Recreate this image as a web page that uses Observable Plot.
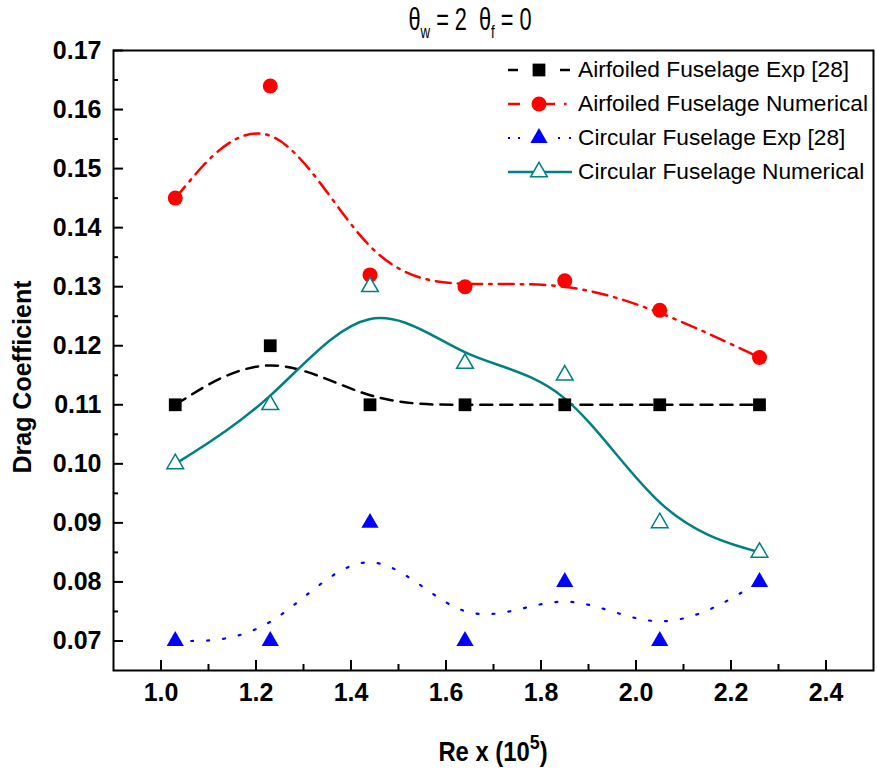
<!DOCTYPE html>
<html><head><meta charset="utf-8">
<script src="https://cdn.jsdelivr.net/npm/d3@7"></script>
<script src="https://cdn.jsdelivr.net/npm/@observablehq/plot@0.6"></script>
<style>
body{margin:0;background:#fff;}
#wrap{position:relative;width:877px;height:774px;font-family:"Liberation Sans",Arial,sans-serif;color:#000;overflow:hidden;}
.ov{position:absolute;white-space:nowrap;color:#000;line-height:1;}
</style></head><body><div id="wrap"></div>
<script>
// ---- data ----
const reValues = [1.03, 1.23, 1.44, 1.64, 1.85, 2.05, 2.26];
const airfoiledExp = [0.110, 0.120, 0.110, 0.110, 0.110, 0.110, 0.110];
const airfoiledNum = [0.145, 0.164, 0.132, 0.130, 0.131, 0.126, 0.118];
const circularExp = [0.070, 0.070, 0.090, 0.070, 0.080, 0.070, 0.080];
const circularNum = [0.100, 0.110, 0.130, 0.117, 0.115, 0.090, 0.085];
const seriesNames = ["Airfoiled Fuselage Exp [28]", "Airfoiled Fuselage Numerical", "Circular Fuselage Exp [28]", "Circular Fuselage Numerical"];
const xMajorTicks = [1.0, 1.2, 1.4, 1.6, 1.8, 2.0, 2.2, 2.4];
const xMinorTicks = [1.1, 1.3, 1.5, 1.7, 1.9, 2.1, 2.3];
const yMajorTicks = [0.07, 0.08, 0.09, 0.10, 0.11, 0.12, 0.13, 0.14, 0.15, 0.16, 0.17];
const yMinorTicks = [0.075, 0.085, 0.095, 0.105, 0.115, 0.125, 0.135, 0.145, 0.155, 0.165];
const xDomain = [0.9, 2.5];
const yDomain = [0.065, 0.17];

// ---- styles ----
const styles = [
  {values: airfoiledExp, stroke: "#000000", dash: "12,8", symbol: "square", fill: "#000000", mstroke: "none", r: 7.2, sw: 2.5,
   legendSegs: [[3, 13], [55, 65]]},
  {values: airfoiledNum, stroke: "#ff0000", dash: "15,7,2.5,7", symbol: "circle", fill: "#ff0000", mstroke: "none", r: 7.5, sw: 2.5,
   legendSegs: [[3, 15], [38, 50], [59, 61.5]]},
  {values: circularExp, stroke: "#0000ff", dash: "2,14", symbol: "triangle", fill: "#0000ff", mstroke: "none", r: 6.4, sw: 2.2,
   legendSegs: [[3, 5], [13, 15], [53, 55], [64, 66]]},
  {values: circularNum, stroke: "#008080", dash: null, symbol: "triangle", fill: "#ffffff", mstroke: "#008080", r: 6.2, sw: 2.5,
   legendSegs: [[3, 67]]}
];

const marks = [
  Plot.frame({stroke: "#000", strokeWidth: 2}),
  Plot.ruleX(xMajorTicks, {x: d => d, y1: () => yDomain[0], y2: () => yDomain[0], insetTop: -10, stroke: "#000", strokeWidth: 2}),
  Plot.ruleX(xMinorTicks, {x: d => d, y1: () => yDomain[0], y2: () => yDomain[0], insetTop: -6, stroke: "#000", strokeWidth: 2}),
  Plot.ruleY(yMajorTicks, {y: d => d, x1: () => xDomain[0], x2: () => xDomain[0], insetRight: -10, stroke: "#000", strokeWidth: 2}),
  Plot.ruleY(yMinorTicks, {y: d => d, x1: () => xDomain[0], x2: () => xDomain[0], insetRight: -5, stroke: "#000", strokeWidth: 2}),
  Plot.axisX({ticks: xMajorTicks, tickSize: 0, tickPadding: 13, tickFormat: d3.format(".1f"), label: null, fontSize: 25, fontWeight: "bold"}),
  Plot.axisY({ticks: yMajorTicks, tickSize: 0, tickPadding: 12, tickFormat: d3.format(".2f"), label: null, fontSize: 25, fontWeight: "bold"})
];
for (const s of styles) {
  const data = reValues.map((x, i) => ({x, y: s.values[i]}));
  marks.push(Plot.line(data, {x: "x", y: "y", curve: "basis", stroke: s.stroke, strokeWidth: s.sw, strokeDasharray: s.dash}));
}
for (const s of styles) {
  const data = reValues.map((x, i) => ({x, y: s.values[i]}));
  marks.push(Plot.dot(data, {x: "x", y: "y", symbol: s.symbol, r: s.r, fill: s.fill, stroke: s.mstroke, strokeWidth: 1.5}));
}

const chart = Plot.plot({
  width: 877, height: 774,
  marginLeft: 113, marginRight: 4, marginTop: 50, marginBottom: 104,
  style: {fontFamily: "'Liberation Sans', Arial, sans-serif", background: "#fff", color: "#000"},
  x: {domain: xDomain},
  y: {domain: yDomain},
  marks
});
const wrap = document.getElementById("wrap");
wrap.appendChild(chart);

// ---- title & axis labels ----
const title = document.createElement("div");
title.className = "ov";
title.style.cssText = "left:470px;top:4px;font-size:31px;transform:translateX(-50%) scaleX(0.7);";
title.innerHTML = "θ<sub style='font-size:19px;vertical-align:-8px'>w</sub> = 2&nbsp;&nbsp;θ<sub style='font-size:19px;vertical-align:-8px'>f</sub> = 0";
wrap.appendChild(title);

const xl = document.createElement("div");
xl.className = "ov";
xl.style.cssText = "left:493px;top:738px;font-size:28px;font-weight:bold;transform:translateX(-50%) scaleX(0.85);";
xl.innerHTML = "Re x (10<sup style='font-size:21px;vertical-align:12px;line-height:0'>5</sup>)";
wrap.appendChild(xl);

const yl = document.createElement("div");
yl.className = "ov";
yl.style.cssText = "left:22px;top:377px;font-size:25px;font-weight:bold;transform:translate(-50%,-50%) rotate(-90deg);";
yl.textContent = "Drag Coefficient";
wrap.appendChild(yl);

// ---- legend ----
const legend = d3.select(wrap).append("div").attr("class", "ov").style("left", "505px").style("top", "55px");
styles.forEach((s, i) => {
  const row = legend.append("div").style("position", "absolute").style("left", "0px").style("top", (i * 34) + "px").style("height", "30px");
  const svg = row.append("svg").attr("width", 70).attr("height", 30).style("position", "absolute").style("left", "0px").style("top", "0px");
  svg.selectAll("line").data(s.legendSegs).join("line")
    .attr("x1", d => d[0]).attr("x2", d => d[1]).attr("y1", 15).attr("y2", 15)
    .attr("stroke", s.stroke).attr("stroke-width", s.sw);
  const sym = {square: d3.symbolSquare, circle: d3.symbolCircle, triangle: d3.symbolTriangle}[s.symbol];
  svg.append("path").attr("d", d3.symbol(sym, Math.PI * s.r * s.r)()).attr("transform", "translate(34,15)")
    .attr("fill", s.fill).attr("stroke", s.mstroke).attr("stroke-width", 1.5);
  row.append("div").style("position", "absolute").style("left", "73px").style("top", "3px")
    .style("font-size", "22.7px").style("white-space", "nowrap").text(seriesNames[i]);
});
</script></body></html>
